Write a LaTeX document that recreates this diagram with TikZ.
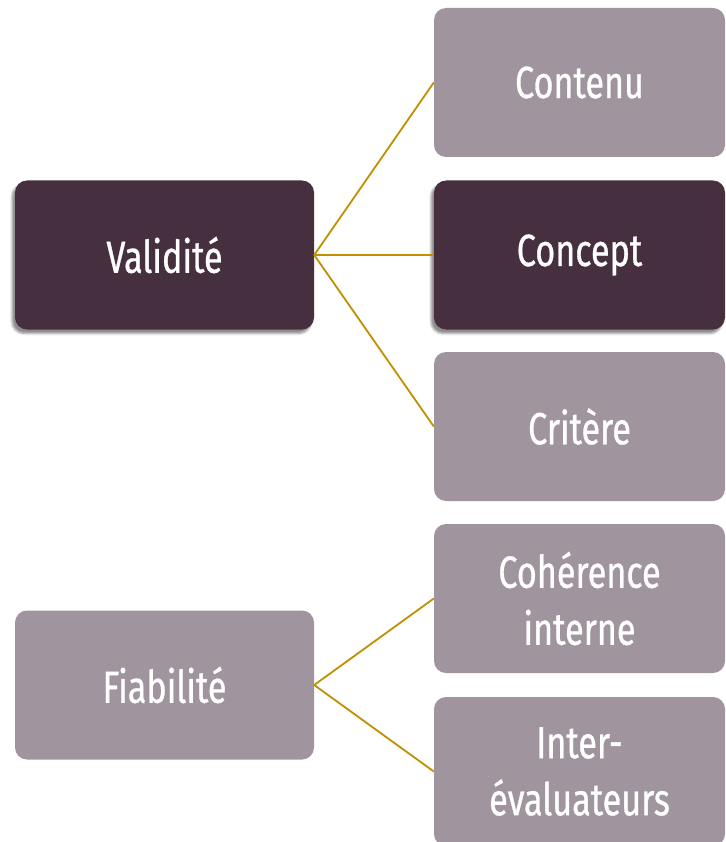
\documentclass[tikz,border=0pt]{standalone}
\usepackage{fontspec}
\setmainfont[FakeStretch=0.76, FakeBold=0.7]{Fira Sans}
\usetikzlibrary{shadows.blur}
\definecolor{prune}{HTML}{46303F}
\definecolor{mauve}{HTML}{A0959E}
\definecolor{ocre}{HTML}{BF9000}
\begin{document}
\begin{tikzpicture}[x=1pt,y=-1pt,
  box/.style={rounded corners=12pt, minimum height=149pt, text=white, align=center,
    font=\fontsize{45}{57}\selectfont},
  leftbox/.style={box, minimum width=299pt},
  rightbox/.style={box, minimum width=291pt},
  dark/.style={fill=prune, blur shadow={shadow xshift=-3pt, shadow yshift=-4pt, shadow opacity=45}},
  light/.style={fill=mauve},
  link/.style={ocre, line width=1.8pt}]
\useasboundingbox (0,0) rectangle (725,842);
\coordinate (V) at (164.5,255);
\coordinate (F) at (164.5,685);
% categories
\node[leftbox, dark] (valid) at (V) {Validité};
\node[leftbox, light] (fiab) at (F) {Fiabilité};
% sous-types
\node[rightbox, light] (contenu) at (579.5,82.5) {Contenu};
\node[rightbox, dark] (concept) at (579.5,255) {Concept};
\node[rightbox, light] (critere) at (579.5,426.5) {Critère};
\node[rightbox, light] (coher) at (579.5,598.5) {Cohérence\\interne};
\node[rightbox, light] (inter) at (579.5,771.5) {Inter-\\évaluateurs};
\foreach \t in {contenu,concept,critere}
  \draw[link] (valid.east) -- (\t.west);
\foreach \t in {coher,inter}
  \draw[link] (fiab.east) -- (\t.west);
\end{tikzpicture}
\end{document}
